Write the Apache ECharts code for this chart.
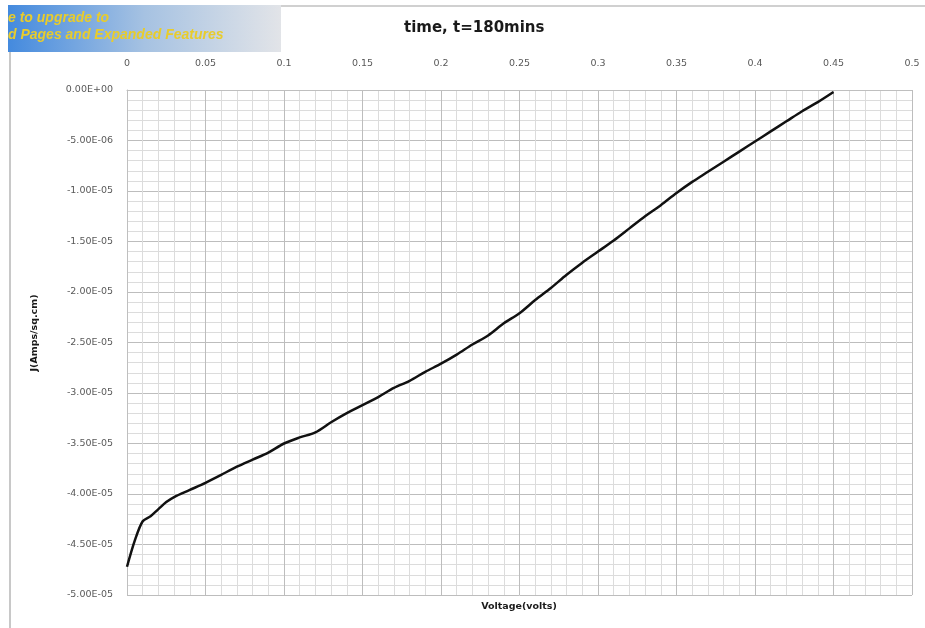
<!DOCTYPE html>
<html>
<head>
<meta charset="utf-8">
<script src="https://cdn.jsdelivr.net/npm/echarts@6/dist/echarts.min.js"></script>
<style>html,body{margin:0;padding:0;background:#fff}#c{width:925px;height:628px}</style>
</head>
<body>
<div id="c"></div>
<script>
const voltage = [0, 0.005, 0.01, 0.015, 0.02, 0.025, 0.03, 0.04, 0.05, 0.06, 0.07, 0.08, 0.09, 0.1, 0.11, 0.12, 0.13, 0.14, 0.15, 0.16, 0.17, 0.18, 0.19, 0.2, 0.21, 0.22, 0.23, 0.24, 0.25, 0.26, 0.27, 0.28, 0.29, 0.3, 0.31, 0.32, 0.33, 0.34, 0.35, 0.36, 0.37, 0.38, 0.39, 0.4, 0.41, 0.42, 0.43, 0.44, 0.45];
const currentDensity = [-4.72e-5, -4.46e-5, -4.27e-5, -4.22e-5, -4.15e-5, -4.08e-5, -4.03e-5, -3.96e-5, -3.89e-5, -3.81e-5, -3.73e-5, -3.66e-5, -3.59e-5, -3.50e-5, -3.44e-5, -3.39e-5, -3.29e-5, -3.20e-5, -3.12e-5, -3.04e-5, -2.95e-5, -2.88e-5, -2.79e-5, -2.71e-5, -2.62e-5, -2.52e-5, -2.43e-5, -2.31e-5, -2.21e-5, -2.08e-5, -1.96e-5, -1.83e-5, -1.71e-5, -1.60e-5, -1.49e-5, -1.37e-5, -1.25e-5, -1.14e-5, -1.02e-5, -9.1e-6, -8.1e-6, -7.1e-6, -6.1e-6, -5.1e-6, -4.1e-6, -3.1e-6, -2.1e-6, -1.2e-6, -2e-7];
const titleText = 'time, t=180mins';
const xAxisTitle = 'Voltage(volts)';
const yAxisTitle = 'J(Amps/sq.cm)';
const bannerLines = ['e to upgrade to', 'd Pages and Expanded Features'];

function sci(v) {
  if (Math.abs(v) < 1e-15) return '0.00E+00';
  const s = v.toExponential(2).toUpperCase();
  const m = s.match(/^(-?[\d.]+)E([+-])(\d+)$/);
  let e = m[3]; if (e.length < 2) e = '0' + e;
  return m[1] + 'E' + m[2] + e;
}

const chart = echarts.init(document.getElementById('c'));
chart.setOption({
  animation: false,
  grid: { left: 127, right: 13, top: 90, bottom: 33, containLabel: false },
  xAxis: {
    type: 'value', position: 'top', min: 0, max: 0.5, interval: 0.05,
    axisLine: { show: true, onZero: false, lineStyle: { color: '#bfbfbf' } },
    axisTick: { show: false },
    axisLabel: { color: '#595959', fontSize: 9.5, margin: 21, fontFamily: 'DejaVu Sans',
      formatter: v => String(+v.toFixed(2)) },
    splitLine: { show: true, lineStyle: { color: '#bdbdbd', width: 1 } },
    minorTick: { show: false, splitNumber: 5 },
    minorSplitLine: { show: true, lineStyle: { color: '#dcdcdc', width: 1 } }
  },
  yAxis: {
    type: 'value', min: -5e-5, max: 0, interval: 5e-6,
    axisLine: { show: true, lineStyle: { color: '#bfbfbf' } },
    axisTick: { show: false },
    axisLabel: { color: '#595959', fontSize: 9.5, margin: 14, fontFamily: 'DejaVu Sans', formatter: sci },
    splitLine: { show: true, lineStyle: { color: '#bdbdbd', width: 1 } },
    minorTick: { show: false, splitNumber: 5 },
    minorSplitLine: { show: true, lineStyle: { color: '#dcdcdc', width: 1 } }
  },
  series: [{
    type: 'line',
    data: voltage.map((v, i) => [v, currentDensity[i]]),
    smooth: 0.3,
    showSymbol: false,
    lineStyle: { color: '#111', width: 2.5 }
  }],
  graphic: [
    { type: 'line', shape: { x1: 281, y1: 6, x2: 925, y2: 6 }, style: { stroke: '#d0d0d0', lineWidth: 2 } },
    { type: 'line', shape: { x1: 10, y1: 52, x2: 10, y2: 628 }, style: { stroke: '#c8c8c8', lineWidth: 2 } },
    { type: 'rect', shape: { x: 8, y: 5, width: 273, height: 47 },
      style: { fill: new echarts.graphic.LinearGradient(0, 0, 1, 0, [
        { offset: 0, color: '#448ade' }, { offset: 0.5, color: '#a6c2e2' }, { offset: 1, color: '#e2e4e8' }]) } },
    { type: 'text', left: 8, top: 11, style: { text: bannerLines[0], fill: '#e8cc2c', font: 'italic bold 14px Liberation Sans, Arial' } },
    { type: 'text', left: 8, top: 28, style: { text: bannerLines[1], fill: '#e8cc2c', font: 'italic bold 14px Liberation Sans, Arial' } },
    { type: 'text', left: 404, top: 21, style: { text: titleText, fill: '#1a1a1a', font: 'bold 15px DejaVu Sans' } },
    { type: 'text', x: 519, y: 607, style: { text: xAxisTitle, fill: '#1a1a1a', font: 'bold 9.5px DejaVu Sans', align: 'center', verticalAlign: 'middle' } },
    { type: 'text', x: 35, y: 333, rotation: Math.PI / 2, style: { text: yAxisTitle, fill: '#1a1a1a', font: 'bold 9.5px DejaVu Sans', align: 'center', verticalAlign: 'middle' } }
  ]
});
</script>
</body>
</html>
